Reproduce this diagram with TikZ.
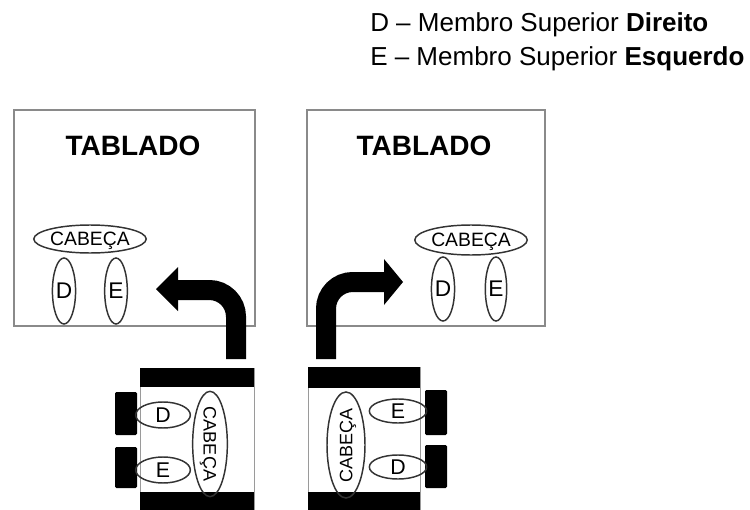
\documentclass[tikz,border=0pt]{standalone}
\usepackage{fontspec}
\setmainfont{Liberation Sans}
\usetikzlibrary{shapes.geometric}
\definecolor{boxgray}{HTML}{8A8A8A}
\definecolor{ellgray}{HTML}{333333}
\definecolor{framegray}{HTML}{9A9A9A}
\begin{document}
\begin{tikzpicture}[x=0.75pt,y=-0.75pt,
  tabbox/.style={draw=boxgray,line width=1.5pt},
  tabtitle/.style={font=\bfseries\fontsize{21}{25}\selectfont,anchor=base,inner sep=0pt},
  ell/.style={ellipse,draw=ellgray,line width=1.1pt,inner sep=0pt,text depth=0pt},
  headell/.style={ell,font=\fontsize{14.5}{16}\selectfont},
  limbell/.style={ell,font=\fontsize{17}{19}\selectfont},
  rlimbell/.style={ell,font=\fontsize{16}{18}\selectfont},
  rheadell/.style={ell,font=\fontsize{13.5}{15}\selectfont},
  frame/.style={draw=framegray,line width=0.6pt},
  bar/.style={fill=black},
  wheel/.style={fill=black,rounded corners=1pt},
  arrowline/.style={draw=black,line width=15pt,rounded corners=20pt},
  arrowhead/.style={fill=black},
  legend/.style={font=\fontsize{19.5}{23}\selectfont,anchor=base west,inner sep=0pt}
]
\useasboundingbox (0,0) rectangle (750,510);

% legend
\node[legend] (leg1) at (370,32) {D -- Membro Superior \textbf{Direito}};
\node[legend] (leg2) at (370,65) {E -- Membro Superior \textbf{Esquerdo}};

% left tablado
\draw[tabbox] (14,110) rectangle (255,326);
\node[tabtitle] (tl) at (133,155) {TABLADO};
\node[headell,minimum width=75pt,minimum height=21pt] (hl) at (90,239) {CABEÇA};
\node[limbell,minimum width=17pt,minimum height=49.5pt] (dl) at (64,291) {D};
\node[limbell,minimum width=17pt,minimum height=49.5pt] (el) at (116,291) {E};

% right tablado
\draw[tabbox] (307,110) rectangle (545,326);
\node[tabtitle] (tr) at (424,155) {TABLADO};
\node[headell,minimum width=73.5pt,minimum height=22.5pt] (hr) at (471,240) {CABEÇA};
\node[limbell,minimum width=16pt,minimum height=48pt] (dr) at (443,289) {D};
\node[limbell,minimum width=16pt,minimum height=48pt] (er) at (496,289) {E};

% left arrow
\coordinate (la1) at (236,359);
\coordinate (la2) at (236,290);
\coordinate (la3) at (178,290);
\draw[arrowline] (la1) -- (la2) -- (la3);
\fill[arrowhead] (178,267) -- (156,289) -- (178,311) -- cycle;

% right arrow
\coordinate (ra1) at (326,359);
\coordinate (ra2) at (326,282);
\coordinate (ra3) at (384,282);
\draw[arrowline] (ra1) -- (ra2) -- (ra3);
\fill[arrowhead] (384,259) -- (403,282) -- (384,305) -- cycle;

% left robot
\draw[frame] (140,368) rectangle (254,515);
\fill[bar] (140,368) rectangle (254,387);
\fill[bar] (140,492) rectangle (254,515);
\fill[wheel] (115,392) rectangle (137,435);
\fill[wheel] (115,447) rectangle (137,488);
\node[rlimbell,minimum width=41pt,minimum height=19.5pt] (rdl) at (163,415) {D};
\node[rlimbell,minimum width=41pt,minimum height=19.5pt] (rel) at (163,470) {E};
\node[rheadell,rotate=-90,minimum width=79pt,minimum height=26pt] (rhl) at (210,444) {CABEÇA};

% right robot
\draw[frame] (308,367) rectangle (420,515);
\fill[bar] (308,367) rectangle (420,388);
\fill[bar] (308,492) rectangle (420,515);
\fill[wheel] (425,390) rectangle (447,435);
\fill[wheel] (425,445) rectangle (447,488);
\node[rlimbell,minimum width=43pt,minimum height=18pt] (rer) at (398,411) {E};
\node[rlimbell,minimum width=43pt,minimum height=18pt] (rdr) at (398,467) {D};
\node[rheadell,rotate=90,minimum width=79.5pt,minimum height=28.5pt] (rhr) at (346,445) {CABEÇA};
\end{tikzpicture}
\end{document}
